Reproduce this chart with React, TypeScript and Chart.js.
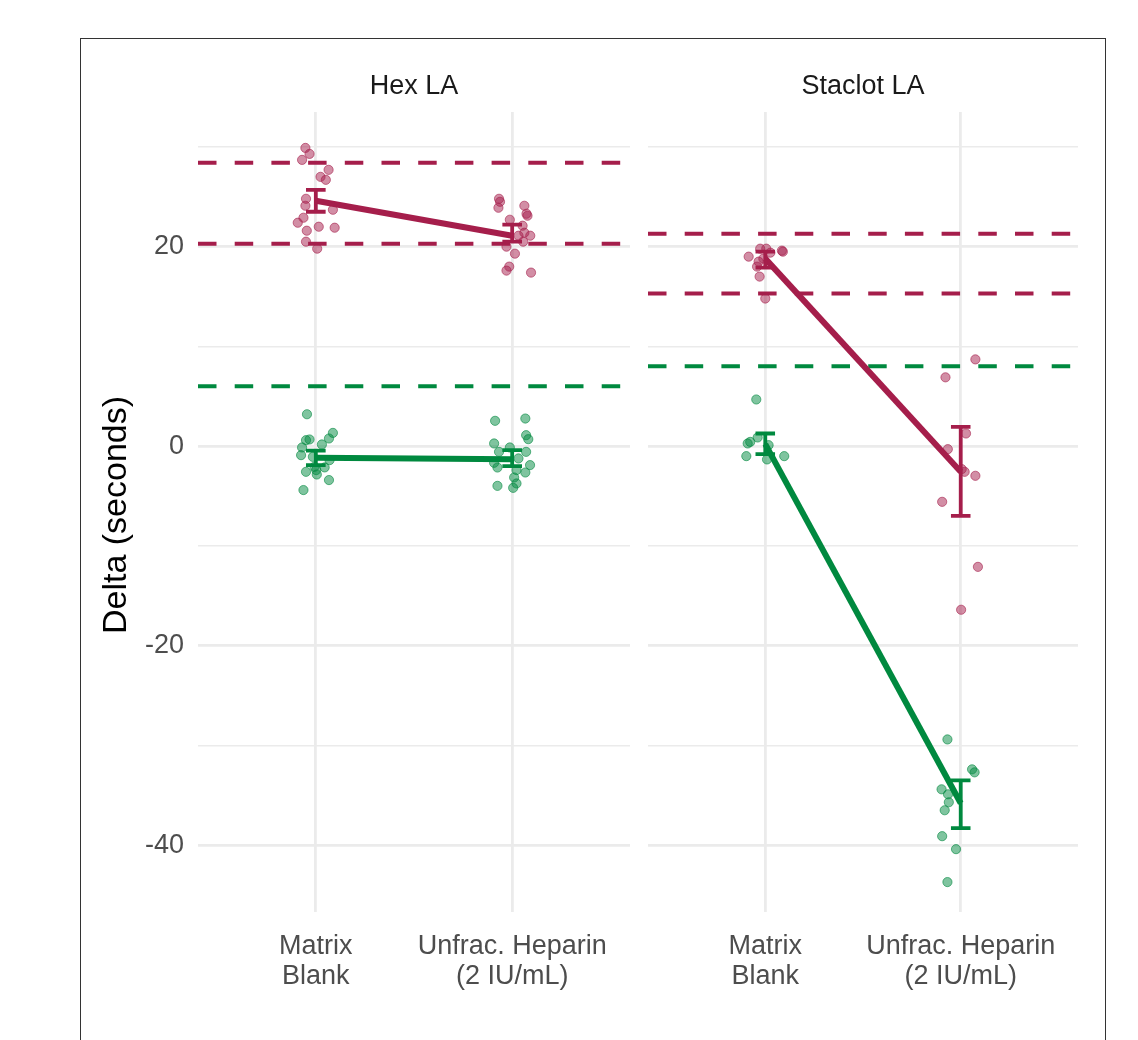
import React, { useEffect, useRef } from "react";
import { Chart, registerables } from "chart.js";
Chart.register(...registerables);

const FONT = "'Liberation Sans', Arial, Helvetica, sans-serif";
const RED = "#A51E4B";
const GREEN = "#00893F";
const RED_PT = "rgba(165,30,75,0.5)";
const GREEN_PT = "rgba(0,137,63,0.5)";
const RED_PT_BORDER = "rgba(165,30,75,0.6)";
const GREEN_PT_BORDER = "rgba(0,137,63,0.6)";

const panelTitles = ["Hex LA", "Staclot LA"];
const categoryLabels = [["Matrix", "Blank"], ["Unfrac. Heparin", "(2 IU/mL)"]];
const yAxisTitle = "Delta (seconds)";
const yMin = -46.7;
const yMax = 33.5;
const yStep = 10;
const yLabelEvery = 20;

// ---- Hex LA ----
const hexRedBlank = [29.9, 29.3, 28.7, 27.7, 27.0, 26.7, 24.8, 24.1, 23.7, 22.9, 22.4, 22.0, 21.9, 21.6, 20.5, 19.8];
const hexRedBlankJitter = [-0.053, -0.032, -0.07, 0.065, 0.024, 0.051, -0.05, -0.053, 0.087, -0.063, -0.092, 0.015, 0.096, -0.046, -0.05, 0.007];
const hexRedHep = [24.8, 24.5, 23.9, 24.1, 23.1, 23.3, 22.7, 22.1, 21.1, 21.4, 21.1, 20.5, 20.0, 19.3, 18.0, 17.6, 17.4];
const hexRedHepJitter = [-0.067, -0.062, -0.07, 0.062, 0.078, 0.073, -0.012, 0.053, 0.032, 0.062, 0.092, 0.056, -0.029, 0.014, -0.015, -0.029, 0.096];
const hexGreenBlank = [3.2, 0.67, 0.6, 1.33, 0.77, 0.17, -0.13, -0.9, -1.07, -1.4, -2.13, -2.57, -2.4, -2.84, -3.4, -4.4, -2.07];
const hexGreenBlankJitter = [-0.045, -0.032, -0.05, 0.087, 0.067, 0.031, -0.07, -0.075, -0.015, 0.07, 0.045, -0.05, 0.002, 0.005, 0.067, -0.063, -0.007];
const hexGreenHep = [2.54, 2.77, 1.1, 0.7, 0.27, -0.13, -0.57, -0.57, -1.23, -1.67, -2.14, -2.4, -2.64, -1.9, -3.14, -3.74, -3.98, -4.18];
const hexGreenHepJitter = [-0.087, 0.067, 0.071, 0.082, -0.092, -0.012, -0.067, 0.071, 0.032, -0.092, -0.075, 0.022, 0.067, 0.091, 0.01, 0.022, -0.075, 0.005];
const hexRedMean = [24.6, 21.1];
const hexRedLower = [23.5, 20.5];
const hexRedUpper = [25.7, 22.2];
const hexGreenMean = [-1.15, -1.3];
const hexGreenLower = [-1.9, -2.0];
const hexGreenUpper = [-0.45, -0.4];
const hexRedRefs = [28.4, 20.3];
const hexGreenRefs = [6.0];

// ---- Staclot LA ----
const staRedBlank = [19.8, 19.8, 19.5, 19.6, 19.0, 18.5, 18.0, 17.0, 14.8, 19.4, 18.8];
const staRedBlankJitter = [-0.026, 0.005, 0.09, 0.085, -0.085, -0.034, -0.042, -0.029, 0.0, 0.026, -0.01];
const staRedHep = [8.7, 6.9, 1.27, -0.3, -2.57, -2.97, -5.58, -12.1, -16.4, -2.3];
const staRedHepJitter = [0.075, -0.078, 0.027, -0.066, 0.02, 0.075, -0.095, 0.088, 0.002, 0.005];
const staGreenBlank = [4.68, 0.43, 0.27, 0.87, -1.0, 0.1, -1.33, -1.0];
const staGreenBlankJitter = [-0.046, -0.077, -0.09, -0.039, -0.097, 0.017, 0.009, 0.097];
const staGreenHep = [-29.4, -32.4, -32.7, -34.4, -34.9, -35.7, -36.5, -39.1, -40.4, -43.7];
const staGreenHepJitter = [-0.068, 0.058, 0.071, -0.098, -0.065, -0.061, -0.082, -0.095, -0.024, -0.068];
const staRedMean = [18.8, -2.57];
const staRedLower = [17.9, -6.98];
const staRedUpper = [19.5, 1.93];
const staGreenMean = [0.2, -35.8];
const staGreenLower = [-0.8, -38.3];
const staGreenUpper = [1.27, -33.5];
const staRedRefs = [21.3, 15.3];
const staGreenRefs = [8.0];

type Series = {
  color: string;
  pt: string;
  ptBorder: string;
  blank: number[];
  blankJ: number[];
  hep: number[];
  hepJ: number[];
  mean: number[];
  lower: number[];
  upper: number[];
  refs: number[];
};

const panels: { title: string; series: Series[] }[] = [
  {
    title: panelTitles[0],
    series: [
      { color: RED, pt: RED_PT, ptBorder: RED_PT_BORDER, blank: hexRedBlank, blankJ: hexRedBlankJitter, hep: hexRedHep, hepJ: hexRedHepJitter, mean: hexRedMean, lower: hexRedLower, upper: hexRedUpper, refs: hexRedRefs },
      { color: GREEN, pt: GREEN_PT, ptBorder: GREEN_PT_BORDER, blank: hexGreenBlank, blankJ: hexGreenBlankJitter, hep: hexGreenHep, hepJ: hexGreenHepJitter, mean: hexGreenMean, lower: hexGreenLower, upper: hexGreenUpper, refs: hexGreenRefs },
    ],
  },
  {
    title: panelTitles[1],
    series: [
      { color: RED, pt: RED_PT, ptBorder: RED_PT_BORDER, blank: staRedBlank, blankJ: staRedBlankJitter, hep: staRedHep, hepJ: staRedHepJitter, mean: staRedMean, lower: staRedLower, upper: staRedUpper, refs: staRedRefs },
      { color: GREEN, pt: GREEN_PT, ptBorder: GREEN_PT_BORDER, blank: staGreenBlank, blankJ: staGreenBlankJitter, hep: staGreenHep, hepJ: staGreenHepJitter, mean: staGreenMean, lower: staGreenLower, upper: staGreenUpper, refs: staGreenRefs },
    ],
  },
];

const X_MIN = 0.4;
const X_MAX = 2.6;

const errorBarPlugin = {
  id: "errorBars",
  afterDatasetsDraw(chart: any, _args: any, opts: any) {
    const bars = opts && opts.bars ? opts.bars : [];
    const xs = chart.scales.x;
    const ys = chart.scales.y;
    const ctx = chart.ctx;
    ctx.save();
    for (const b of bars) {
      const px = xs.getPixelForValue(b.x);
      const capL = xs.getPixelForValue(b.x - 0.05);
      const capR = xs.getPixelForValue(b.x + 0.05);
      const pLo = ys.getPixelForValue(b.lower);
      const pHi = ys.getPixelForValue(b.upper);
      ctx.strokeStyle = b.color;
      ctx.lineWidth = 3.8;
      ctx.lineCap = "butt";
      ctx.beginPath();
      ctx.moveTo(px, pLo);
      ctx.lineTo(px, pHi);
      ctx.moveTo(capL, pLo);
      ctx.lineTo(capR, pLo);
      ctx.moveTo(capL, pHi);
      ctx.lineTo(capR, pHi);
      ctx.stroke();
    }
    ctx.restore();
  },
};

const textPlugin = {
  id: "facetText",
  afterDraw(chart: any, _args: any, opts: any) {
    const ctx = chart.ctx;
    const area = chart.chartArea;
    ctx.save();
    ctx.fillStyle = "#1A1A1A";
    ctx.font = `27px ${FONT}`;
    ctx.textAlign = "center";
    ctx.textBaseline = "middle";
    ctx.fillText(opts.title, (area.left + area.right) / 2, 87);
    if (opts.yTitle) {
      ctx.fillStyle = "#000000";
      ctx.font = `34px ${FONT}`;
      ctx.translate(opts.yTitleX, (area.top + area.bottom) / 2 + 3);
      ctx.rotate(-Math.PI / 2);
      ctx.fillText(opts.yTitle, 0, 0);
    }
    ctx.restore();
  },
};

function buildConfig(panel: { title: string; series: Series[] }, first: boolean): any {
  const datasets: any[] = [];
  const bars: any[] = [];
  for (const s of panel.series) {
    for (const r of s.refs) {
      datasets.push({
        type: "line",
        data: [
          { x: X_MIN, y: r },
          { x: X_MAX, y: r },
        ],
        borderColor: s.color,
        borderWidth: 4,
        borderDash: [18.5, 18.2],
        pointRadius: 0,
        order: 5,
      });
    }
  }
  for (const s of panel.series) {
    const pts = [
      ...s.blank.map((v, i) => ({ x: 1 + s.blankJ[i], y: v })),
      ...s.hep.map((v, i) => ({ x: 2 + s.hepJ[i], y: v })),
    ];
    datasets.push({
      type: "scatter",
      data: pts,
      backgroundColor: s.pt,
      borderColor: s.ptBorder,
      borderWidth: 1,
      pointRadius: 4.6,
      order: 4,
    });
  }
  for (const s of panel.series) {
    datasets.push({
      type: "line",
      data: s.mean.map((m, i) => ({ x: i + 1, y: m })),
      borderColor: s.color,
      borderWidth: 6,
      pointRadius: 0,
      order: 3,
    });
    s.mean.forEach((_m, i) => {
      bars.push({ x: i + 1, lower: s.lower[i], upper: s.upper[i], color: s.color });
    });
  }

  return {
    type: "scatter",
    data: { datasets },
    options: {
      animation: false,
      responsive: false,
      maintainAspectRatio: false,
      layout: {
        padding: first
          ? { left: 0, right: 10, top: 112, bottom: 0 }
          : { left: 8, right: 60, top: 112, bottom: 0 },
      },
      plugins: {
        legend: { display: false },
        tooltip: { enabled: false },
        title: { display: false },
        errorBars: { bars },
        facetText: {
          title: panel.title,
          yTitle: first ? yAxisTitle : null,
          yTitleX: 117,
        },
      },
      scales: {
        x: {
          type: "linear",
          min: X_MIN,
          max: X_MAX,
          afterBuildTicks: (scale: any) => {
            scale.ticks = categoryLabels.map((_c, i) => ({ value: i + 1 }));
          },
          afterFit: (scale: any) => {
            scale.height = 128;
          },
          grid: { color: "#EBEBEB", lineWidth: 2.8, drawTicks: false },
          border: { display: false },
          ticks: {
            autoSkip: false,
            maxRotation: 0,
            minRotation: 0,
            padding: 20,
            color: "#4D4D4D",
            font: { family: FONT, size: 27, lineHeight: 1.11 },
            callback: (v: any) => categoryLabels[Math.round(Number(v)) - 1] || "",
          },
        },
        y: {
          type: "linear",
          min: yMin,
          max: yMax,
          afterFit: (scale: any) => {
            scale.width = first ? 198 : 0;
          },
          grid: {
            color: "#EBEBEB",
            drawTicks: false,
            lineWidth: (c: any) =>
              c.tick && Math.abs(c.tick.value % yLabelEvery) < 1e-6 ? 2.8 : 1.6,
          },
          border: { display: false },
          ticks: {
            display: first,
            stepSize: yStep,
            includeBounds: false,
            autoSkip: false,
            padding: 14,
            color: "#4D4D4D",
            font: { family: FONT, size: 27 },
            callback: (v: any) =>
              Math.abs(Number(v) % yLabelEvery) < 1e-6 ? String(v) : "",
          },
        },
      },
    },
    plugins: [errorBarPlugin, textPlugin],
  };
}

function Panel(props: { index: number; left: number; width: number }) {
  const ref = useRef<HTMLCanvasElement | null>(null);
  useEffect(() => {
    if (!ref.current) return;
    const chart = new Chart(ref.current, buildConfig(panels[props.index], props.index === 0));
    return () => chart.destroy();
  }, [props.index]);
  return (
    <canvas
      ref={ref}
      width={props.width}
      height={1040}
      style={{ position: "absolute", left: props.left, top: 0, width: props.width, height: 1040 }}
    />
  );
}

export default function App() {
  useEffect(() => {
    document.body.style.margin = "0";
  }, []);
  return (
    <div
      style={{
        position: "absolute",
        left: 0,
        top: 0,
        width: 1138,
        height: 1040,
        overflow: "hidden",
        background: "#FFFFFF",
      }}
    >
      <div
        style={{
          position: "absolute",
          left: 80,
          top: 38,
          width: 1026,
          height: 1100,
          border: "1px solid #333333",
          boxSizing: "border-box",
        }}
      />
      <Panel index={0} left={0} width={640} />
      <Panel index={1} left={640} width={498} />
    </div>
  );
}
